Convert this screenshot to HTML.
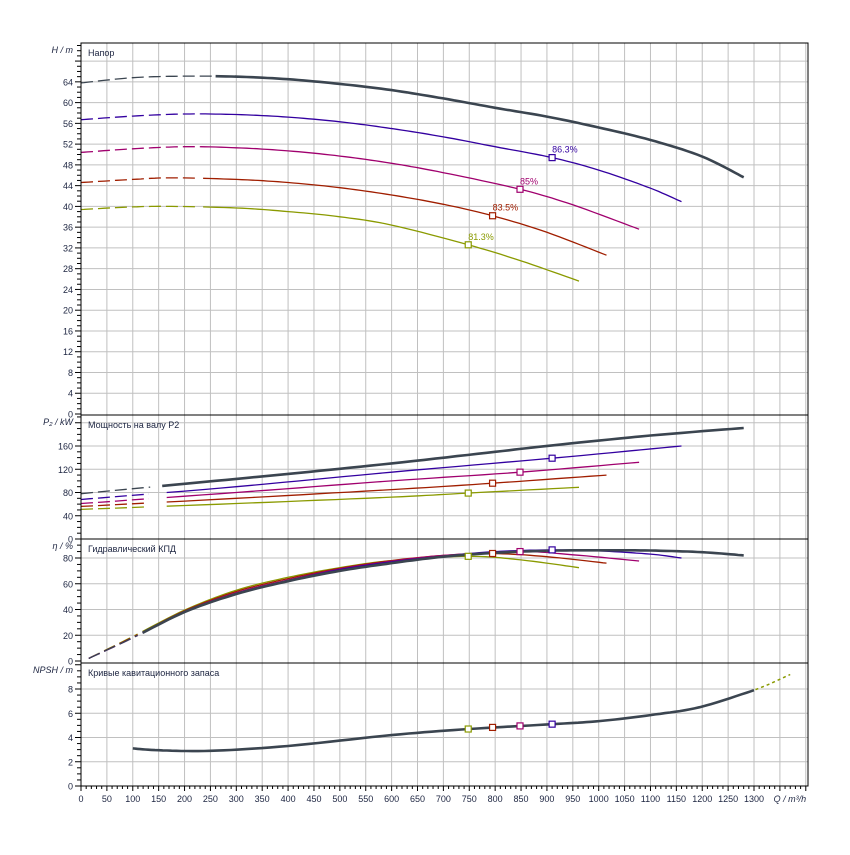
<!DOCTYPE html>
<html><head><meta charset="utf-8"><style>
body{margin:0;background:#fff;}
svg text{font-family:"Liberation Sans",sans-serif;font-size:9px;fill:#1c2440;}
</style></head><body>
<svg id="s" width="850" height="850" xmlns="http://www.w3.org/2000/svg"></svg>
<script>
const S=document.getElementById('s');let out='';
const X0=81,XR=808,K=0.5177;
const qx=q=>X0+q*K;
const panels=[
 {top:43,bot:414,y0:414,s:5.19,grid:4,lab:4,labMin:0,labMax:64,minor:1,title:"Напор",ylab:"H / m"},
 {top:415,bot:539,y0:539,s:0.58125,grid:40,lab:40,labMin:0,labMax:160,minor:10,title:"Мощность на валу P2",ylab:"P₂ / kW"},
 {top:539,bot:662,y0:661,s:1.2875,grid:20,lab:20,labMin:0,labMax:80,minor:5,title:"Гидравлический КПД",ylab:"η / %"},
 {top:663,bot:786,y0:786,s:12.125,grid:2,lab:2,labMin:0,labMax:8,minor:0.5,title:"Кривые кавитационного запаса",ylab:"NPSH / m"}];
for(let q=50;q<1404;q+=50){const x=qx(q);out+=`<line x1="${x}" y1="43" x2="${x}" y2="786" stroke="#c0c0c0"/>`;}
panels.forEach(p=>{
 for(let v=p.grid;;v+=p.grid){const y=p.y0-v*p.s;if(y<p.top+2)break;out+=`<line x1="${X0}" y1="${y}" x2="${XR}" y2="${y}" stroke="#c0c0c0"/>`;}
 for(let v=0;;v+=p.minor){const y=p.y0-v*p.s;if(y<p.top+1)break;const isL=Math.abs(v/p.lab-Math.round(v/p.lab))<1e-6;out+=`<line x1="${isL?75:77}" y1="${y}" x2="${X0}" y2="${y}" stroke="#000"/>`;}
 for(let v=p.labMin;v<=p.labMax;v+=p.lab){const y=p.y0-v*p.s;out+=`<text x="73" y="${y+3.5}" text-anchor="end">${v}</text>`;}
 out+=`<text x="88" y="${p.top+13}">${p.title}</text>`;
 out+=`<text x="73" y="${p.top+10}" text-anchor="end" font-style="italic">${p.ylab}</text>`;
});
for(let q=0;q<=1400;q+=10){const x=qx(q);out+=`<line x1="${x}" y1="786" x2="${x}" y2="${q%50==0?791:789}" stroke="#000"/>`;}
for(let q=0;q<=1300;q+=50){out+=`<text x="${qx(q)}" y="802" text-anchor="middle">${q}</text>`;}
out+=`<text x="${qx(1350)+10}" y="802" text-anchor="middle" font-style="italic">Q / m³/h</text>`;
function path(pts,p){let d='';pts.forEach((a,i)=>{d+=(i?'L':'M')+qx(a[0]).toFixed(1)+','+(p.y0-a[1]*p.s).toFixed(1);});return d;}
function smooth(pts){const r=[];for(let i=0;i<pts.length-1;i++){const p0=pts[Math.max(0,i-1)],p1=pts[i],p2=pts[i+1],p3=pts[Math.min(pts.length-1,i+2)];for(let t=0;t<1;t+=0.1){const t2=t*t,t3=t2*t;const f=(a,b,c,d)=>0.5*((2*b)+(-a+c)*t+(2*a-5*b+4*c-d)*t2+(-a+3*b-3*c+d)*t3);r.push([f(p0[0],p1[0],p2[0],p3[0]),f(p0[1],p1[1],p2[1],p3[1])]);}}r.push(pts[pts.length-1]);return r;}
function curve(pts,p,col,w,dashQ){const sm=smooth(pts);const a=sm.filter(v=>v[0]<=dashQ),b=sm.filter(v=>v[0]>=dashQ);
 if(a.length>1)out+=`<path d="${path(a,p)}" fill="none" stroke="${col}" stroke-width="1.3" stroke-dasharray="12,5"/>`;
 out+=`<path d="${path(b.length>1?b:sm,p)}" fill="none" stroke="${col}" stroke-width="${w}"/>`;}
function mark(q,v,p,col){out+=`<rect x="${qx(q)-3}" y="${p.y0-v*p.s-3}" width="6" height="6" fill="#fff" stroke="${col}" stroke-width="1.2"/>`;}
const C=['#3b4550','#3300a0','#a0006e','#a01e00','#8a9a00'];
const H=[
[[0,63.8],[100,64.8],[200,65.1],[300,65.0],[400,64.5],[500,63.6],[600,62.4],[700,60.8],[800,59.0],[900,57.3],[1000,55.2],[1100,52.8],[1200,49.6],[1280,45.6]],
[[0,56.7],[100,57.4],[200,57.8],[300,57.7],[400,57.2],[500,56.3],[600,55.0],[700,53.4],[800,51.5],[910,49.4],[1000,47.0],[1100,43.5],[1160,40.9]],
[[0,50.4],[100,51.1],[200,51.5],[300,51.3],[400,50.7],[500,49.7],[600,48.3],[700,46.5],[848,43.3],[950,40.3],[1078,35.6]],
[[0,44.6],[100,45.2],[175,45.5],[300,45.2],[400,44.6],[500,43.6],[600,42.2],[700,40.4],[795,38.2],[900,35.0],[1015,30.6]],
[[0,39.4],[100,39.9],[175,40.0],[300,39.7],[400,39.0],[500,38.0],[600,36.4],[748,32.6],[850,29.5],[962,25.6]]];
const P=[
[[0,78],[200,95],[400,112],[600,130],[800,150],[910,161],[1100,178],[1280,191]],
[[0,68],[300,90],[600,115],[910,139],[1160,160]],
[[0,61],[300,80],[600,100],[848,115],[1078,132]],
[[0,56],[300,70],[600,85],[795,96],[1015,110]],
[[0,51],[300,61],[600,72],[748,79],[962,89]]];
const E=[
[[15,2],[100,18],[200,38],[300,52],[400,62],[500,70],[600,76],[700,81],[800,84],[910,85.7],[1000,86],[1100,85.8],[1200,84.5],[1280,82]],
[[15,2],[100,18],[200,38],[300,52.5],[400,62.5],[500,71],[600,77],[700,81.5],[800,85],[910,86.3],[1000,85.5],[1100,83],[1160,80]],
[[15,2],[100,18],[200,38.5],[300,53],[400,63],[500,71.5],[600,77.5],[700,82],[848,85],[950,82.5],[1078,77.7]],
[[15,2],[100,18.5],[200,39],[300,54],[400,64],[500,72],[600,78],[700,82],[795,83.5],[900,81],[1015,76]],
[[15,2],[100,19],[200,39.5],[300,55],[400,65],[500,72.5],[600,78],[748,81.3],[850,78.5],[962,72.5]]];
const N=[[100,3.1],[150,2.95],[250,2.9],[400,3.3],[600,4.2],[750,4.7],[910,5.1],[1003,5.36],[1100,5.85],[1195,6.5],[1300,7.9],[1370,9.2]];
const marks=[[1280,0,0,0],[910,49.4,139,86.3],[848,43.3,115,85],[795,38.2,96,83.5],[748,32.6,79,81.3]];
const labs=['','86.3%','85%','83.5%','81.3%'];
for(let i=4;i>=0;i--){const w=i==0?2.6:1.3;
 curve(H[i],panels[0],C[i],w,i==0?260:230);
 curve(P[i],panels[1],C[i],w,140);
 curve(E[i],panels[2],C[i],w,110);}
out+=`<path d="${path(smooth(N).filter(v=>v[0]>=1280),panels[3])}" fill="none" stroke="#8a9a00" stroke-width="1.5" stroke-dasharray="3,3"/>`;
curve(N.filter(v=>v[0]<=1300),panels[3],C[0],2.6,0);
for(let i=1;i<5;i++){const m=marks[i];mark(m[0],m[1],panels[0],C[i]);mark(m[0],m[2],panels[1],C[i]);mark(m[0],m[3],panels[2],C[i]);
 const nv=smooth(N).reduce((a,b)=>Math.abs(b[0]-m[0])<Math.abs(a[0]-m[0])?b:a);mark(m[0],nv[1],panels[3],C[i]);
 out+=`<text x="${qx(m[0])}" y="${panels[0].y0-m[1]*5.19-5}" style="fill:${C[i]}">${labs[i]}</text>`;}
out+=`<rect x="${X0}" y="43" width="${XR-X0}" height="743" fill="none" stroke="#000"/>`;
[415,539,663].forEach(y=>out+=`<line x1="${X0}" y1="${y}" x2="${XR}" y2="${y}" stroke="#000"/>`);
S.innerHTML=out;
</script>
</body></html>
